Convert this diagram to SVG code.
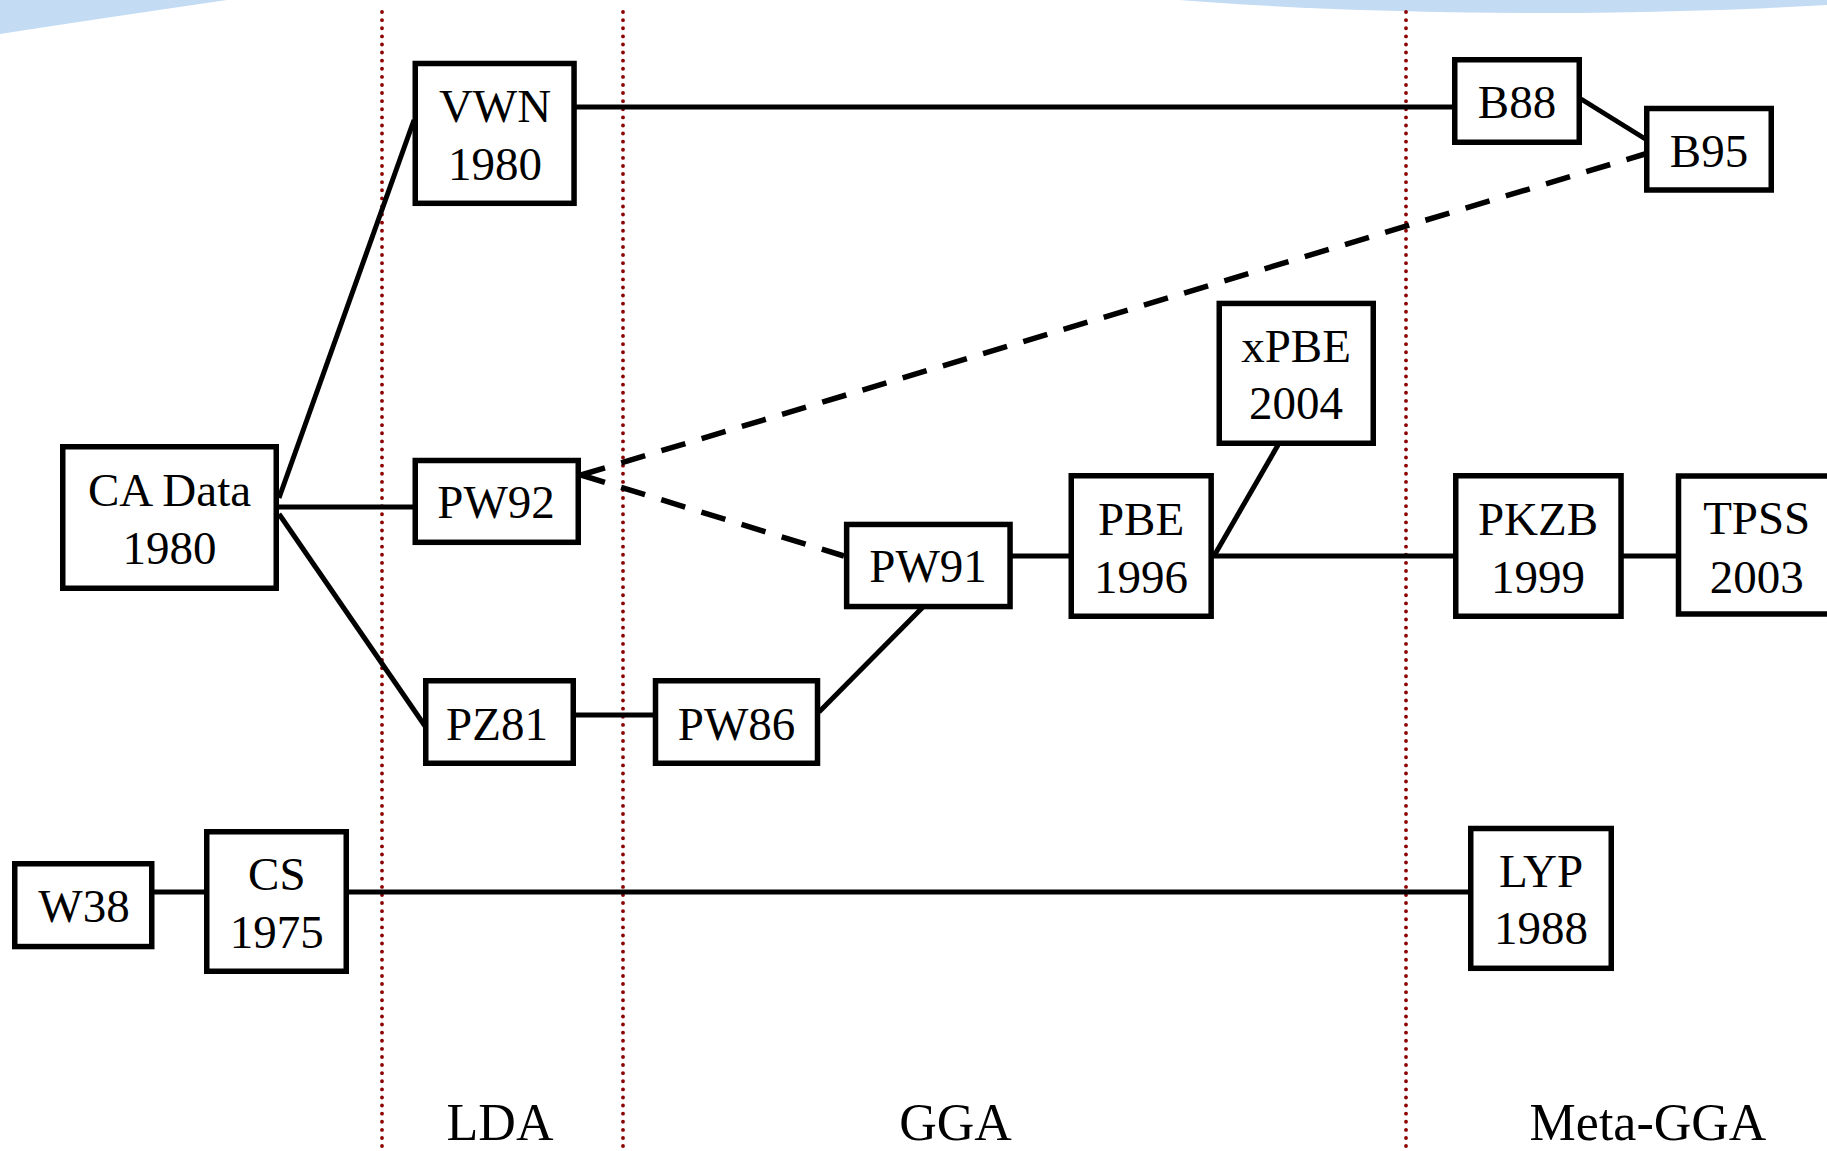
<svg xmlns="http://www.w3.org/2000/svg" width="1827" height="1151" viewBox="0 0 1827 1151">
<style>
.box{fill:#fff;stroke:#000;stroke-width:5.5}
.ln{fill:none;stroke:#000;stroke-width:5}
.dash{fill:none;stroke:#000;stroke-width:5.5;stroke-dasharray:25 17}
.dot{fill:none;stroke:#8b0000;stroke-width:3.8;stroke-linecap:round;stroke-dasharray:0.1 8}
.t{font-family:"Liberation Serif","Times New Roman",serif;font-size:47px;fill:#000;text-anchor:middle}
.lab{font-family:"Liberation Serif","Times New Roman",serif;font-size:52px;fill:#000;text-anchor:middle}
</style>
<rect width="1827" height="1151" fill="#fff"/>
<g id="background">
<path d="M0,0 L227,0 Q90,20 0,34 Z" fill="#c3dcf4"/>
<ellipse cx="1540" cy="-100" rx="775" ry="113" fill="#c3dcf4"/>
</g>
<g id="separators">
<line class="dot" x1="382" y1="12" x2="382" y2="1148"/>
<line class="dot" x1="623" y1="12" x2="623" y2="1148"/>
<line class="dot" x1="1406" y1="12" x2="1406" y2="1148"/>
</g>
<g id="connectors">
<line class="ln" x1="279" y1="498" x2="414" y2="120"/>
<line class="ln" x1="279" y1="507" x2="414" y2="507"/>
<line class="ln" x1="279" y1="514" x2="425" y2="726"/>
<line class="ln" x1="576" y1="107" x2="1453" y2="107"/>
<line class="ln" x1="1581" y1="99" x2="1647" y2="140"/>
<line class="ln" x1="575" y1="715" x2="654" y2="715"/>
<line class="ln" x1="819" y1="712" x2="923" y2="607"/>
<line class="ln" x1="1012" y1="556" x2="1070" y2="556"/>
<line class="ln" x1="1214" y1="556" x2="1278" y2="445"/>
<line class="ln" x1="1213" y1="556" x2="1454" y2="556"/>
<line class="ln" x1="1623" y1="556" x2="1677" y2="556"/>
<line class="ln" x1="154" y1="892" x2="205" y2="892"/>
<line class="ln" x1="348" y1="892" x2="1469" y2="892"/>
<path class="dash" d="M581,475 L1645,154"/>
<path class="dash" d="M581,475 L844,556"/>
</g>
<g id="node-vwn"><rect class="box" x="415.25" y="63.5" width="158.8" height="139.8"/><text class="t" x="495" y="122">VWN</text><text class="t" x="495" y="180">1980</text></g>
<g id="node-b88"><rect class="box" x="1454.75" y="59.75" width="124.5" height="82.5"/><text class="t" x="1517" y="118">B88</text></g>
<g id="node-b95"><rect class="box" x="1646.75" y="108.5" width="124.5" height="81.5"/><text class="t" x="1709" y="166.5">B95</text></g>
<g id="node-cadata"><rect class="box" x="62.75" y="446.75" width="213.5" height="141.5"/><text class="t" x="169.5" y="506">CA Data</text><text class="t" x="169.5" y="564">1980</text></g>
<g id="node-pw92"><rect class="box" x="415.25" y="460.5" width="163" height="81.8"/><text class="t" x="496" y="518.3">PW92</text></g>
<g id="node-pz81"><rect class="box" x="425.75" y="680.75" width="147.5" height="82.5"/><text class="t" x="497" y="740">PZ81</text></g>
<g id="node-pw86"><rect class="box" x="655.5" y="680.75" width="162" height="82.5"/><text class="t" x="736.5" y="740">PW86</text></g>
<g id="node-pw91"><rect class="box" x="846.65" y="524.45" width="163.4" height="82.1"/><text class="t" x="928" y="581.7">PW91</text></g>
<g id="node-pbe"><rect class="box" x="1071.25" y="475.75" width="139.9" height="140.5"/><text class="t" x="1141" y="535">PBE</text><text class="t" x="1141" y="592.7">1996</text></g>
<g id="node-xpbe"><rect class="box" x="1219.25" y="303.45" width="154" height="139.8"/><text class="t" x="1296" y="361.7">xPBE</text><text class="t" x="1296" y="419.3">2004</text></g>
<g id="node-pkzb"><rect class="box" x="1455.75" y="475.75" width="165.3" height="140.5"/><text class="t" x="1538" y="535">PKZB</text><text class="t" x="1538" y="592.7">1999</text></g>
<g id="node-tpss"><rect class="box" x="1678.5" y="476" width="160" height="138"/><text class="t" x="1756.7" y="534">TPSS</text><text class="t" x="1756.7" y="592.7">2003</text></g>
<g id="node-w38"><rect class="box" x="14.75" y="863.75" width="137" height="82.8"/><text class="t" x="84" y="921.7">W38</text></g>
<g id="node-cs"><rect class="box" x="206.75" y="831.75" width="139.5" height="139.5"/><text class="t" x="276.8" y="890">CS</text><text class="t" x="276.8" y="948.3">1975</text></g>
<g id="node-lyp"><rect class="box" x="1470.75" y="828.5" width="140.5" height="139.8"/><text class="t" x="1541" y="887.3">LYP</text><text class="t" x="1541" y="944.3">1988</text></g>
<g id="labels">
<text class="lab" x="500" y="1140">LDA</text>
<text class="lab" x="955.5" y="1140">GGA</text>
<text class="lab" x="1648" y="1140">Meta-GGA</text>
</g>
</svg>
